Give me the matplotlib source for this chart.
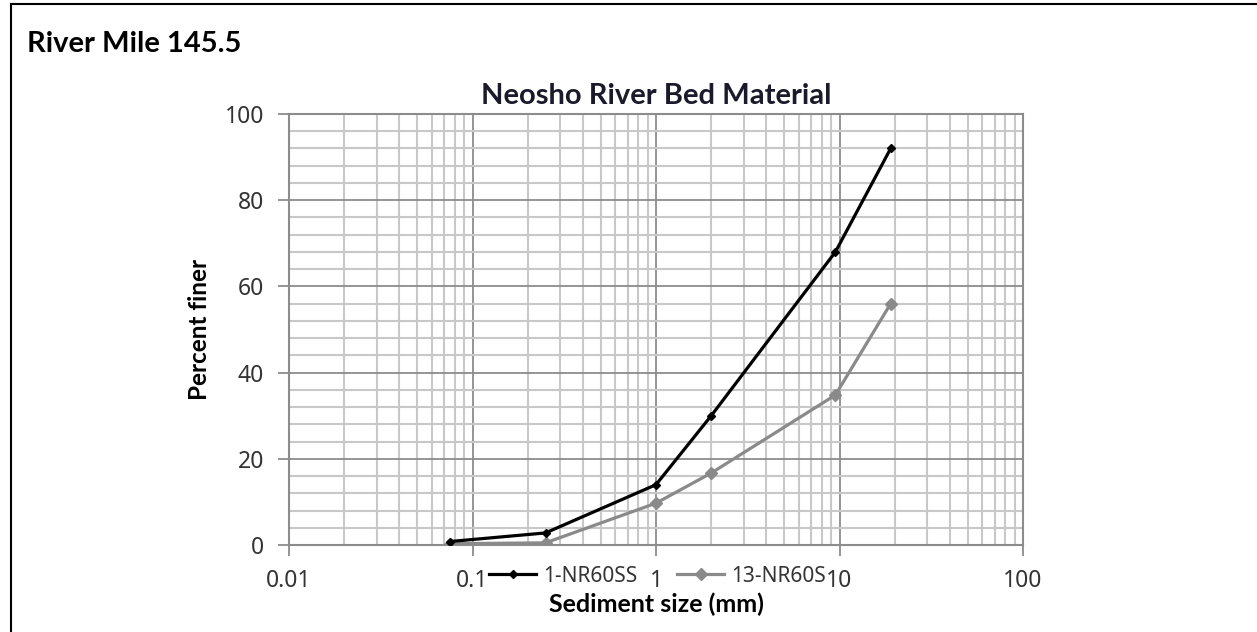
import numpy as np
import matplotlib.pyplot as plt
from matplotlib.ticker import LogLocator, MultipleLocator, FixedLocator, NullFormatter
from matplotlib.lines import Line2D

# grain size (mm) and percent finer for the two samples
size_mm = [0.075, 0.25, 1, 2, 9.5, 19]
finer_1 = [0.8, 2.8, 14, 30, 68, 92]
finer_13 = [0.3, 0.5, 9.7, 16.7, 34.8, 56]
series_names = ["1-NR60SS", "13-NR60S"]
x_ticks = [0.01, 0.1, 1, 10, 100]
x_tick_labels = ["0.01", "0.1", "1", "10", "100"]
y_ticks = [0, 20, 40, 60, 80, 100]

plt.rcParams["font.family"] = ["Noto Sans", "DejaVu Sans"]
BOLD = ["Lato", "DejaVu Sans"]

W, H = 1257, 632
fig = plt.figure(figsize=(W / 100, H / 100), dpi=100)
ax = fig.add_axes([289 / W, 1 - 545 / H, (1023 - 289) / W, (545 - 114) / H])

ax.plot(size_mm, finer_1, color="black", lw=2.3, marker="D", ms=4.5,
        label=series_names[0], zorder=4)
ax.plot(size_mm, finer_13, color="#8a8a8a", lw=2.3, marker="D", ms=6.5,
        label=series_names[1], zorder=3)

ax.set_xscale("log")
ax.set_xlim(0.01, 100)
ax.set_ylim(0, 100)
ax.xaxis.set_major_locator(FixedLocator(x_ticks))
ax.set_xticklabels(x_tick_labels)
ax.xaxis.set_minor_locator(LogLocator(base=10, subs=np.arange(2, 10)))
ax.xaxis.set_minor_formatter(NullFormatter())
ax.set_yticks(y_ticks)
ax.yaxis.set_minor_locator(MultipleLocator(4))

ax.grid(which="major", color="#8c8c8c", lw=1.3)
ax.grid(which="minor", color="#c8c8c8", lw=1.5)
ax.set_axisbelow(True)
for s in ax.spines.values():
    s.set_color("#8c8c8c")
    s.set_linewidth(1.5)
ax.tick_params(which="major", length=8, width=1.3, color="#8c8c8c",
               labelsize=16.5, labelcolor="#333333", pad=10)
ax.tick_params(axis="x", pad=9)
ax.tick_params(which="minor", length=0)

ax.set_title("Neosho River Bed Material", fontsize=21, fontweight="bold",
             family=BOLD, color="#1a1a2a", pad=7)
ax.set_ylabel("Percent finer", fontsize=17.5, fontweight="bold", family=BOLD,
              labelpad=10)
ax.set_xlabel("Sediment size (mm)", fontsize=18, fontweight="bold",
              family=BOLD, labelpad=0)

fig.legend(loc="center", bbox_to_anchor=(657 / W, 1 - 576 / H), ncol=2,
           frameon=False, fontsize=15, handlelength=2.3, columnspacing=1.9,
           handletextpad=0.3, labelcolor="#333333")

fig.text(27 / W, 1 - 52 / H, "River Mile 145.5", fontsize=21,
         fontweight="bold", family=BOLD, va="baseline")

# cell border (top and left)
fig.add_artist(Line2D([11 / W, 1], [1 - 4 / H, 1 - 4 / H], color="black", lw=1.5))
fig.add_artist(Line2D([11 / W, 11 / W], [0, 1 - 4 / H], color="black", lw=1.5))

fig.savefig("out.png", dpi=100)
